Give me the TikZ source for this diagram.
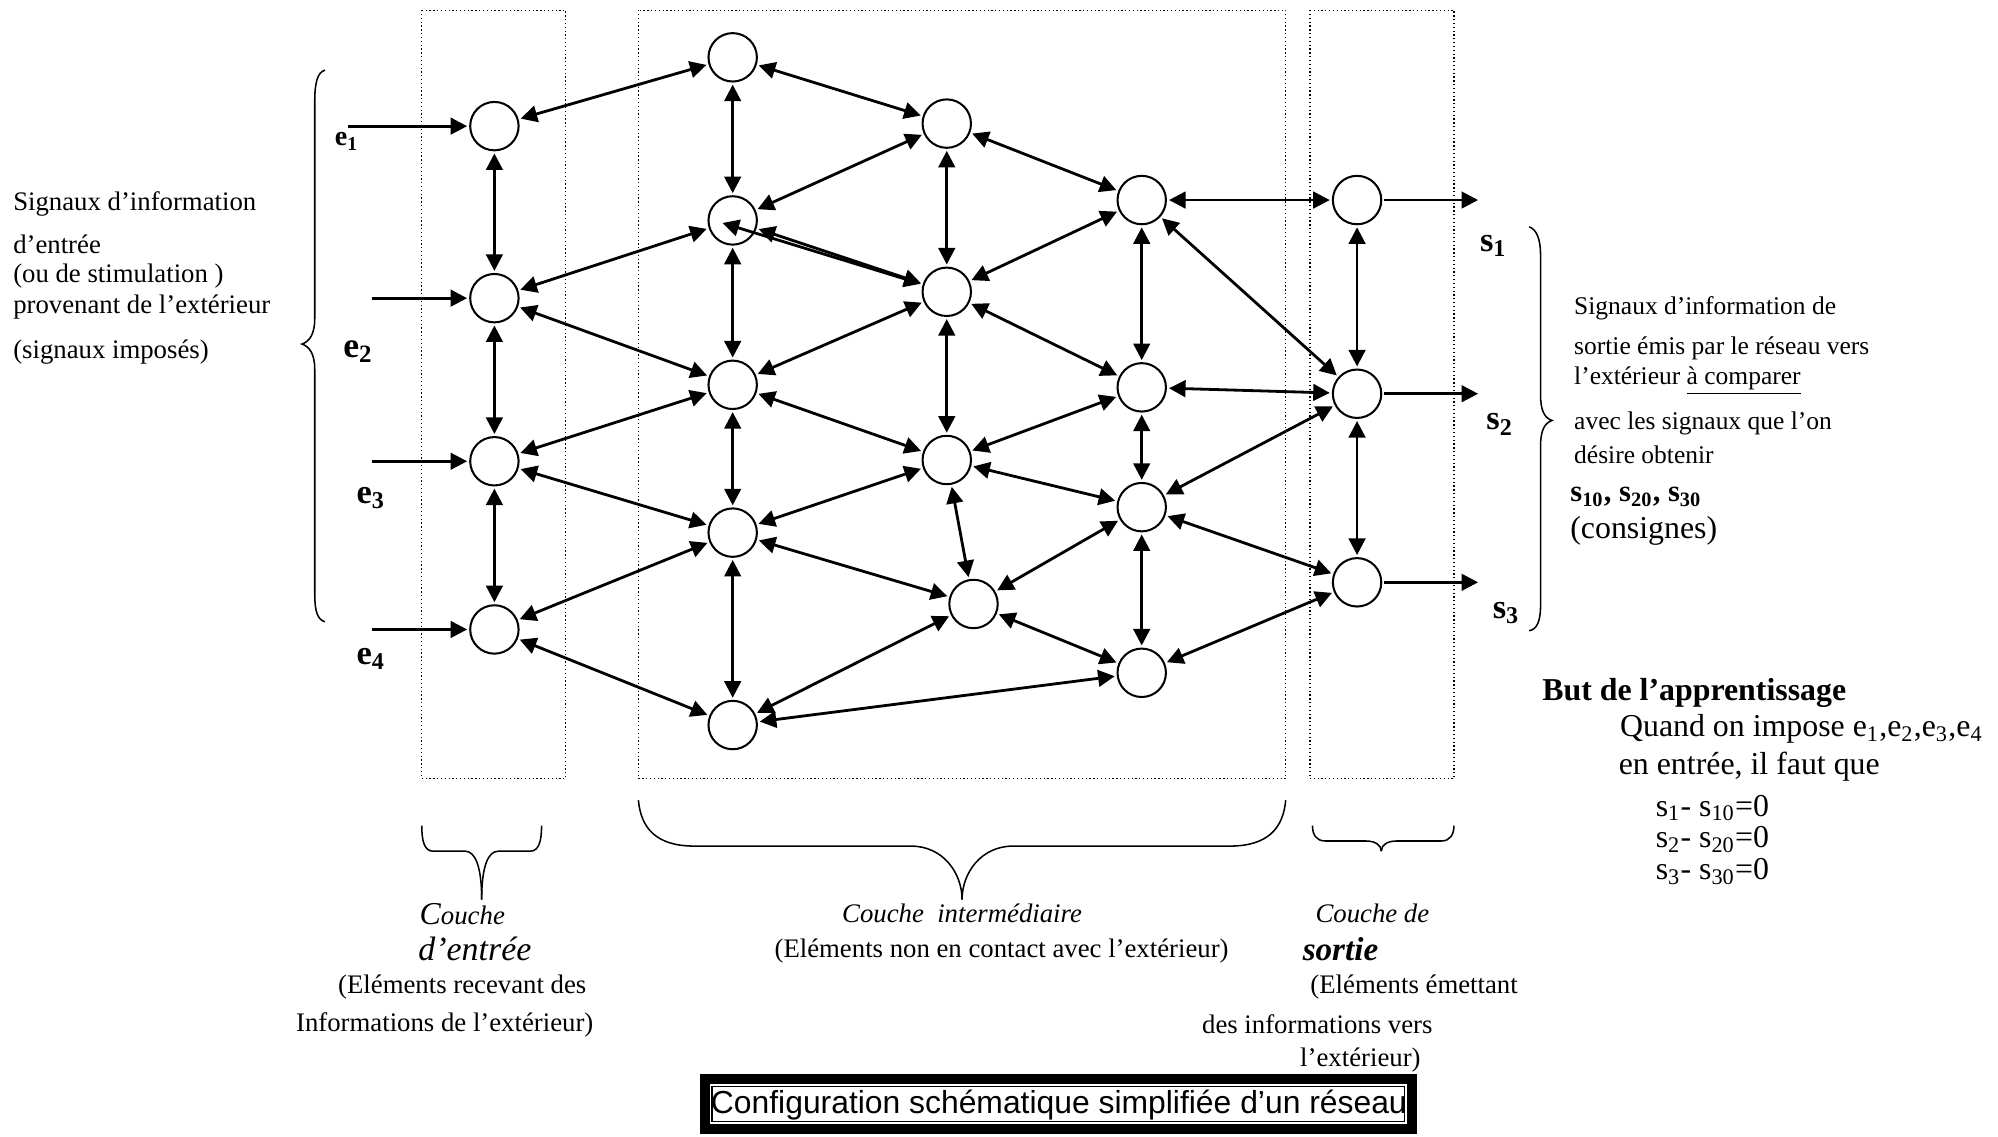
\documentclass[tikz,border=0pt]{standalone}
\usepackage{fontspec}
\setmainfont{Liberation Serif}
\newfontfamily\arialfont{Liberation Sans}
\usetikzlibrary{arrows.meta,shapes.geometric,calc}
\begin{document}
\begin{tikzpicture}[x=0.5pt,y=-0.5pt,
  nd/.style={draw,circle,line width=0.8pt,minimum size=19pt,inner sep=0pt,outer sep=1.2pt},
  ind/.style={draw,circle,line width=0.8pt,minimum size=19pt,inner sep=0pt,outer sep=1.2pt},
  dbl/.style={{Triangle[length=6.5pt,width=6.5pt]}-{Triangle[length=6.5pt,width=6.5pt]},line width=1.1pt},
  sgl/.style={-{Triangle[length=6.5pt,width=6.5pt]},line width=1.1pt},
  lay/.style={draw,densely dotted,line width=0.5pt},
  brace/.style={draw,line width=0.6pt},
  lt/.style={anchor=west,inner sep=0pt},
  ct/.style={anchor=center,inner sep=0pt},
]
\useasboundingbox (0,0) rectangle (1568,892);
% layer boxes
\draw[lay] (331,8) rectangle (444,611);
\draw[lay] (501,8) rectangle (1009,611);
\draw[lay] (1028,8) rectangle (1141,611);
% nodes
\node[ind] (I1) at (388,99) {};
\node[ind] (I2) at (388,234) {};
\node[ind] (I3) at (388,362) {};
\node[ind] (I4) at (388,494) {};
\node[nd] (A1) at (575,45) {};
\node[nd] (A2) at (575,173) {};
\node[nd] (A3) at (575,302) {};
\node[nd] (A4) at (575,418) {};
\node[nd] (A5) at (575,569) {};
\node[nd] (B1) at (743,97) {};
\node[nd] (B2) at (743,229) {};
\node[nd] (B3) at (743,361) {};
\node[nd] (B4) at (764,474) {};
\node[nd] (C1) at (896,157) {};
\node[nd] (C2) at (896,304) {};
\node[nd] (C3) at (896,398) {};
\node[nd] (C4) at (896,528) {};
\node[nd] (O1) at (1065,157) {};
\node[nd] (O2) at (1065,309) {};
\node[nd] (O3) at (1065,457) {};
% connections
\foreach \a/\b in {I1/I2,I2/I3,I3/I4,I1/A1,I2/A2,I2/A3,I3/A3,I3/A4,I4/A4,I4/A5,
  A1/A2,A2/A3,A3/A4,A4/A5,A1/B1,A2/B1,A2/B2,B1/B2,B1/C1,B2/C1,B2/A3,B2/C2,B2/B3,
  C1/C2,C1/O1,C1/O2,C2/O2,A3/B3,A4/B3,B3/C2,B3/C3,B3/B4,A4/B4,A5/B4,A5/C4,B4/C3,
  B4/C4,C2/C3,C3/C4,C3/O2,C3/O3,C4/O3,O1/O2,O2/O3}
  \draw[dbl] (\a) -- (\b);
\coordinate (A2in) at (567,175);
\draw[dbl] (B2) -- (A2in);
% inputs
\coordinate (e1s) at (273,99);
\coordinate (e2s) at (292,234);
\coordinate (e3s) at (292,362);
\coordinate (e4s) at (292,494);
\draw[sgl] (e1s) -- (I1);
\draw[sgl] (e2s) -- (I2);
\draw[sgl] (e3s) -- (I3);
\draw[sgl] (e4s) -- (I4);
% outputs
\coordinate (s1e) at (1160,157);
\coordinate (s2e) at (1160,309);
\coordinate (s3e) at (1160,457);
\draw[sgl] (O1) -- (s1e);
\draw[sgl] (O2) -- (s2e);
\draw[sgl] (O3) -- (s3e);
% e / s labels
\node[ct,font=\fontsize{11}{13}\selectfont\bfseries] (le1) at (272,111) {e\textsubscript{1}};
\node[ct,font=\fontsize{14}{16}\selectfont\bfseries] (le2) at (281,276) {e\textsubscript{2}};
\node[ct,font=\fontsize{13.5}{16}\selectfont\bfseries] (le3) at (291,391) {e\textsubscript{3}};
\node[ct,font=\fontsize{13.5}{16}\selectfont\bfseries] (le4) at (291,517) {e\textsubscript{4}};
\node[ct,font=\fontsize{13.5}{16}\selectfont\bfseries] (ls1) at (1172,193) {s\textsubscript{1}};
\node[ct,font=\fontsize{13.5}{16}\selectfont\bfseries] (ls2) at (1177,333) {s\textsubscript{2}};
\node[ct,font=\fontsize{13.5}{16}\selectfont\bfseries] (ls3) at (1182,481) {s\textsubscript{3}};
% braces
\draw[brace] (255,55) .. controls (249,57) and (247,65) .. (247,80) -- (247,250)
  .. controls (247,262) and (243,268) .. (237,270)
  .. controls (243,272) and (247,278) .. (247,290) -- (247,465)
  .. controls (247,480) and (249,486) .. (255,488);
\draw[brace] (1200,178) .. controls (1206,180) and (1209,188) .. (1209,200) -- (1209,310)
  .. controls (1209,322) and (1212,328) .. (1218,330)
  .. controls (1212,332) and (1209,338) .. (1209,350) -- (1209,475)
  .. controls (1209,488) and (1206,494) .. (1200,495);
\draw[brace] (331,648) .. controls (331,660) and (333,668) .. (340,668) -- (365,668)
  .. controls (373,668) and (378,680) .. (378,706);
\draw[brace] (425,648) .. controls (425,660) and (423,668) .. (416,668) -- (391,668)
  .. controls (383,668) and (378,680) .. (378,706);
\draw[brace] (501,628) .. controls (503,650) and (515,664) .. (545,664) -- (715,664)
  .. controls (740,664) and (755,685) .. (755,706);
\draw[brace] (1009,628) .. controls (1007,650) and (995,664) .. (965,664) -- (795,664)
  .. controls (770,664) and (755,685) .. (755,706);
\draw[brace] (1030,648) .. controls (1030,655) and (1033,660) .. (1040,660) -- (1072,660)
  .. controls (1079,660) and (1084,663) .. (1084,668);
\draw[brace] (1141,648) .. controls (1141,655) and (1138,660) .. (1131,660) -- (1096,660)
  .. controls (1089,660) and (1084,663) .. (1084,668);
% left text
\node[lt,font=\fontsize{10.5}{12}\selectfont] (t1) at (10,160) {Signaux d’information};
\node[lt,font=\fontsize{10.5}{12}\selectfont] (t2) at (10,192) {d’entrée};
\node[lt,font=\fontsize{10.5}{12}\selectfont] (t3) at (10,217) {(ou de stimulation )};
\node[lt,font=\fontsize{10.5}{12}\selectfont] (t4) at (10,241) {provenant de l’extérieur};
\node[lt,font=\fontsize{10.5}{12}\selectfont] (t5) at (10,276) {(signaux imposés)};
% right text
\node[lt,font=\fontsize{10}{12}\selectfont] (r1) at (1235,242) {Signaux d’information de};
\node[lt,font=\fontsize{10}{12}\selectfont] (r2) at (1235,273) {sortie émis par le réseau vers};
\node[lt,font=\fontsize{10}{12}\selectfont] (r3) at (1235,299) {l’extérieur \underline{à comparer}};
\node[lt,font=\fontsize{10}{12}\selectfont] (r4) at (1235,332) {avec les signaux que l’on};
\node[lt,font=\fontsize{10}{12}\selectfont] (r5) at (1235,357) {désire obtenir};
\node[lt,font=\fontsize{12}{14}\selectfont\bfseries] (r6) at (1232,390) {s\textsubscript{10}, s\textsubscript{20}, s\textsubscript{30}};
\node[lt,font=\fontsize{12.5}{14}\selectfont] (r7) at (1232,417) {(consignes)};
% goal text
\node[lt,font=\fontsize{12.5}{14}\selectfont\bfseries] (g1) at (1210,544) {But de l’apprentissage};
\node[lt,font=\fontsize{12.5}{14}\selectfont] (g2) at (1271,572) {Quand on impose e\textsubscript{1},e\textsubscript{2},e\textsubscript{3},e\textsubscript{4}};
\node[lt,font=\fontsize{12.5}{14}\selectfont] (g3) at (1270,602) {en entrée, il faut que};
\node[lt,font=\fontsize{12.5}{14}\selectfont] (g4) at (1299,634) {s\textsubscript{1}- s\textsubscript{10}=0};
\node[lt,font=\fontsize{12.5}{14}\selectfont] (g5) at (1299,659) {s\textsubscript{2}- s\textsubscript{20}=0};
\node[lt,font=\fontsize{12.5}{14}\selectfont] (g6) at (1299,684) {s\textsubscript{3}- s\textsubscript{30}=0};
% bottom labels
\node[lt,font=\fontsize{10.5}{12}\selectfont\itshape] (b1) at (329,717) {{\fontsize{12.5}{14}\selectfont C}ouche};
\node[lt,font=\fontsize{13.3}{16}\selectfont\itshape] (b2) at (328,745) {d’entrée};
\node[lt,font=\fontsize{10.5}{12}\selectfont] (b3) at (265,775) {(Eléments recevant des};
\node[lt,font=\fontsize{10.5}{12}\selectfont] (b4) at (232,804) {Informations de l’extérieur)};
\node[ct,font=\fontsize{10.5}{12}\selectfont\itshape] (b5) at (755,717) {Couche\ \ intermédiaire};
\node[ct,font=\fontsize{10.5}{12}\selectfont] (b6) at (786,746) {(Eléments non en contact avec l’extérieur)};
\node[lt,font=\fontsize{10.5}{12}\selectfont\itshape] (b7) at (1032,717) {Couche de};
\node[lt,font=\fontsize{13}{15}\selectfont\bfseries\itshape] (b8) at (1022,745) {sortie};
\node[lt,font=\fontsize{10.5}{12}\selectfont] (b9) at (1028,775) {(Eléments émettant};
\node[lt,font=\fontsize{10.5}{12}\selectfont] (b10) at (943,804) {des informations vers};
\node[lt,font=\fontsize{10.5}{12}\selectfont] (b11) at (1020,832) {l’extérieur)};
% caption
\fill[black] (549,843) rectangle (1112,890);
\fill[white] (557,851) rectangle (1104,882);
\draw[black,line width=0.5pt] (558.8,852.8) rectangle (1102.2,880.2);
\node[ct,font=\fontsize{12.5}{14}\selectfont\arialfont] (cap) at (831,867) {Configuration schématique simplifiée d’un réseau};
\end{tikzpicture}
\end{document}
